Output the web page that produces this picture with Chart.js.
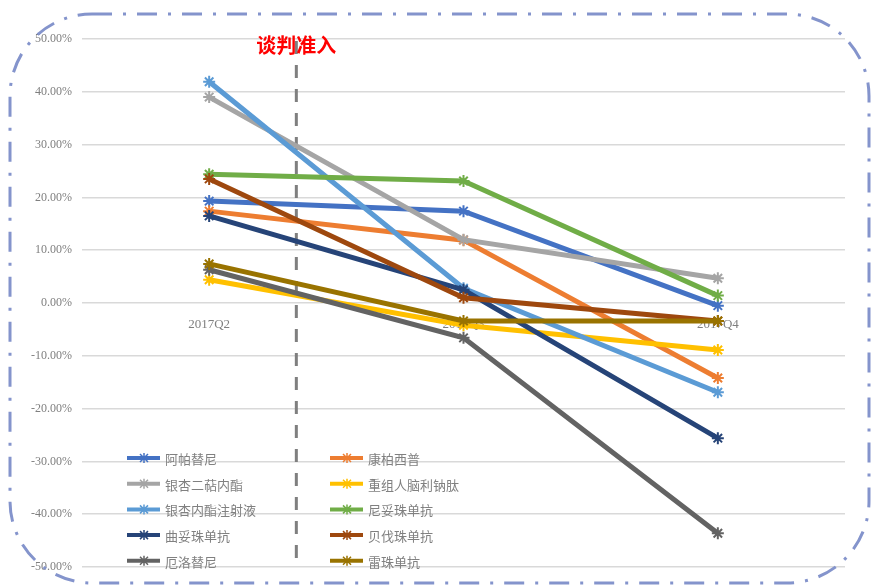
<!DOCTYPE html>
<html>
<head>
<meta charset="utf-8">
<script src="https://cdn.jsdelivr.net/npm/chart.js@4"></script>
<style>
  html, body { margin: 0; padding: 0; background: #fff; }
  #wrap { width: 872px; height: 586px; }
</style>
</head>
<body>
<div id="wrap"><canvas id="chart" width="872" height="586"></canvas></div>
<script>
//Quarters on the x axis
const quarters = ["2017Q2", "2017Q3", "2017Q4"];
//Drug names, in legend order
const drugs = ["阿帕替尼", "康柏西普", "银杏二萜内酯", "重组人脑利钠肽", "银杏内酯注射液",
  "尼妥珠单抗", "曲妥珠单抗", "贝伐珠单抗", "厄洛替尼", "雷珠单抗"];
//Growth rate (%) per quarter for each drug
const apatinib = [19.3, 17.4, -0.5];
const conbercept = [17.4, 11.9, -14.2];
const ginkgoDiterpene = [39.0, 12.0, 4.7];
const nesiritide = [4.4, -4.2, -8.9];
const ginkgolide = [41.9, 2.8, -16.9];
const nimotuzumab = [24.4, 23.1, 1.4];
const trastuzumab = [16.5, 2.5, -25.6];
const bevacizumab = [23.5, 1.0, -3.4];
const erlotinib = [6.3, -6.6, -43.6];
const ranibizumab = [7.4, -3.4, -3.4];
const seriesValues = [apatinib, conbercept, ginkgoDiterpene, nesiritide, ginkgolide,
  nimotuzumab, trastuzumab, bevacizumab, erlotinib, ranibizumab];
//Line colors
const lineColors = ["#4472c4", "#ed7d31", "#a5a5a5", "#ffc000", "#5b9bd5",
  "#70ad47", "#264478", "#9e480e", "#636363", "#997300"];
//Y tick range
const yMin = -50, yMax = 50, yStep = 10;
const markerLabel = "谈判准入";

//Rounded dash-dot frame around the whole picture
const framePlugin = {
  id: "frame",
  afterDraw(chart) {
    const ctx = chart.ctx;
    ctx.save();
    ctx.strokeStyle = "#8494cc";
    ctx.lineWidth = 3;
    ctx.setLineDash([20, 11, 3, 11]);
    ctx.beginPath();
    ctx.roundRect(10, 14, 859, 569, 82);
    ctx.stroke();
    ctx.restore();
  }
};

//Dashed divider between Q2 and Q3 with its red caption
const dividerPlugin = {
  id: "divider",
  beforeDatasetsDraw(chart) {
    const ctx = chart.ctx;
    const xs = chart.scales.x;
    const x = (xs.getPixelForValue(0) + xs.getPixelForValue(1)) / 2 - 40;
    ctx.save();
    ctx.strokeStyle = "#7f7f7f";
    ctx.lineWidth = 3;
    ctx.setLineDash([13, 11]);
    ctx.beginPath();
    ctx.moveTo(x, chart.chartArea.top + 2);
    ctx.lineTo(x, chart.chartArea.bottom - 6);
    ctx.stroke();
    ctx.setLineDash([]);
    ctx.fillStyle = "#ff0000";
    ctx.font = "bold 20px 'Noto Sans CJK SC'";
    ctx.textAlign = "center";
    ctx.textBaseline = "alphabetic";
    ctx.fillText(markerLabel, x, 53);
    ctx.restore();
  }
};

//Two-column legend inside the plot area
const legendPlugin = {
  id: "innerLegend",
  afterDraw(chart) {
    const ctx = chart.ctx;
    ctx.save();
    ctx.font = "13px 'Noto Sans CJK SC'";
    ctx.textBaseline = "middle";
    drugs.forEach((name, i) => {
      const col = i % 2, row = Math.floor(i / 2);
      const x0 = 127 + col * 203;
      const y = 458 + row * 25.7;
      ctx.strokeStyle = lineColors[i];
      ctx.lineWidth = 4;
      ctx.beginPath();
      ctx.moveTo(x0, y);
      ctx.lineTo(x0 + 33, y);
      ctx.stroke();
      ctx.lineWidth = 1.5;
      ctx.beginPath();
      ctx.moveTo(x0 + 13, y - 4); ctx.lineTo(x0 + 21, y + 4);
      ctx.moveTo(x0 + 21, y - 4); ctx.lineTo(x0 + 13, y + 4);
      ctx.moveTo(x0 + 17, y - 5); ctx.lineTo(x0 + 17, y + 5);
      ctx.stroke();
      ctx.fillStyle = "#808080";
      ctx.fillText(name, x0 + 38, y + 1);
    });
    ctx.restore();
  }
};

const datasets = drugs.map((name, i) => ({
  label: name,
  data: seriesValues[i],
  borderColor: lineColors[i],
  backgroundColor: lineColors[i],
  borderWidth: 5,
  pointStyle: "star",
  pointRadius: 6,
  pointBorderWidth: 2,
  pointBorderColor: lineColors[i],
  tension: 0,
  order: -i,
}));

new Chart(document.getElementById("chart"), {
  type: "line",
  data: { labels: quarters, datasets: datasets },
  plugins: [dividerPlugin, legendPlugin, framePlugin],
  options: {
    responsive: false,
    animation: false,
    layout: { padding: { top: 39, bottom: 19, right: 27, left: 0 } },
    plugins: {
      legend: { display: false },
      tooltip: { enabled: false },
    },
    scales: {
      x: {
        position: { y: 0 },
        offset: true,
        grid: { display: false },
        border: { display: false },
        ticks: {
          color: "#7f7f7f",
          font: { family: "'Liberation Serif'", size: 13 },
          padding: 6,
        },
      },
      y: {
        min: yMin,
        max: yMax,
        afterFit(scale) { scale.width = 82; },
        grid: { color: "#d9d9d9", lineWidth: 1.5, drawTicks: false },
        border: { display: false },
        ticks: {
          stepSize: yStep,
          padding: 10,
          color: "#7f7f7f",
          font: { family: "'Liberation Serif'", size: 12 },
          callback: (v) => v.toFixed(2) + "%",
        },
      },
    },
  },
});
</script>
</body>
</html>
